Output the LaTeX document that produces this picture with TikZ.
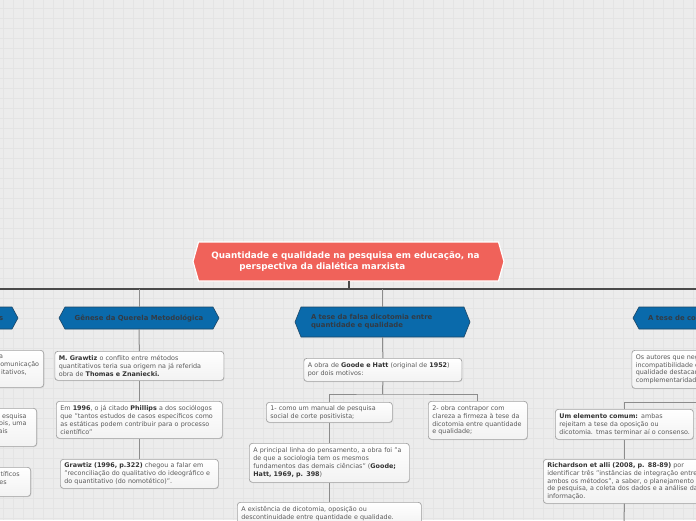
\documentclass[tikz,border=0pt]{standalone}
\usepackage{fontspec}
\setmainfont{DejaVu Sans}
\usetikzlibrary{shadows}
\definecolor{bgc}{HTML}{ECECEC}
\definecolor{gridc}{HTML}{E4E4E4}
\definecolor{titlec}{HTML}{F0625A}
\definecolor{bluec}{HTML}{0A6AAB}
\definecolor{blueedge}{HTML}{1C4666}
\definecolor{hextxt}{HTML}{333B44}
\definecolor{txtc}{HTML}{5A5A5A}
\definecolor{boldc}{HTML}{333333}
\definecolor{boxedge}{HTML}{A3A3A3}
\definecolor{connc}{HTML}{8C8C8C}
\definecolor{barc}{HTML}{4A4A4A}
\newcommand{\hb}[1]{\textbf{\color{boldc}#1}}
\newcommand{\lineb}[1]{\mbox{#1}}
\newcommand{\padr}[1]{\rule{#1}{0pt}}
\tikzset{
  mmbox/.style={draw=boxedge, line width=0.7pt, rounded corners=3pt,
    top color=white, bottom color=black!5,
    drop shadow={opacity=0.18, shadow xshift=0.6pt, shadow yshift=-0.8pt},
    inner xsep=4pt, inner ysep=2pt, align=left, text=txtc,
    font=\fontsize{6.4}{7.8}\selectfont, anchor=north west},
  hexshape/.style={fill=bluec, draw=blueedge, line width=0.6pt},
  hextext/.style={inner sep=0pt, text=hextxt, font=\bfseries\fontsize{6.9}{8}\selectfont},
  conn/.style={draw=connc, line width=1pt},
  barline/.style={draw=barc, line width=2pt}
}
\begin{document}
\begin{tikzpicture}[x=1pt,y=-1pt]
\useasboundingbox (0,0) rectangle (696,520);
\clip (0,0) rectangle (696,520);
\fill[bgc] (0,0) rectangle (696,520);
\foreach \gx in {3,13,...,693} \draw[gridc, line width=0.8pt] (\gx,0) -- (\gx,520);
\foreach \gy in {8,18,...,518} \draw[gridc, line width=0.8pt] (0,\gy) -- (696,\gy);

% main bar
\coordinate (barL) at (0,289);
\coordinate (barR) at (696,289);
\coordinate (barT) at (349,289);
\draw[barline] (barL) -- (barR);

% title
\path[fill=titlec, draw=white, line width=1.2pt] (193,261.5) -- (198.5,242) -- (498.5,242) -- (504,261.5) -- (498.5,281) -- (198.5,281) -- cycle;
\node[inner sep=0pt, minimum width=300pt, minimum height=39pt, align=left, text=white,
  font=\bfseries\fontsize{8.8}{11.5}\selectfont] (title) at (348.5,261.5)
  {Quantidade e qualidade na pesquisa em educação, na\padr{6pt}\\\padr{28pt}perspectiva da dialética marxista};
\draw[barline] (title.south -| barT) -- (barT);

% blue topic nodes
\path[hexshape] (-50,307) -- (12,307) -- (18,318) -- (12,329) -- (-50,329) -- cycle;
\node[hextext, anchor=base east] (lefthex) at (3.4,320.4) {s};

\path[hexshape] (59,318) -- (65,307) -- (213,307) -- (219,318) -- (213,329) -- (65,329) -- cycle;
\node[hextext, minimum width=148pt, minimum height=22pt] (gen) at (139,318) {Gênese da Querela Metodológica};
\draw[conn] (gen.north |- barL) -- (gen.north);

\path[hexshape] (295,322) -- (301,307) -- (464,307) -- (470,322) -- (464,337) -- (301,337) -- cycle;
\node[hextext, text width=143pt, align=left, minimum height=30pt] (fal) at (382.5,322) {A tese da falsa dicotomia entre\\quantidade e qualidade};
\draw[conn] (fal.north |- barL) -- (fal.north);

\path[hexshape] (633,318) -- (639,307) -- (720,307) -- (720,329) -- (639,329) -- cycle;
\node[hextext, anchor=west] (comp) at (648,318) {A tese de co};

% left column (cut off)
\node[mmbox, anchor=north east, text width=150pt, align=right, minimum height=37pt] (l1) at (44,350)
  {a\padr{36.5pt}\\omunicação\padr{0.5pt}\\itativos,\padr{13pt}\\\mbox{}};
\node[mmbox, anchor=north east, text width=150pt, align=right, minimum height=38pt] (l2) at (37,408)
  {esquisa\padr{6pt}\\ois, uma\padr{6pt}\\ais\padr{25pt}\\\mbox{}};
\node[mmbox, anchor=north east, text width=150pt, align=right, minimum height=29pt] (l3) at (31,467)
  {tíficos\padr{7pt}\\es\padr{20pt}\\\mbox{}};

% Genese column
\node[mmbox, text width=161pt, minimum height=29pt] (g1) at (54.5,351)
  {\lineb{\hb{M. Grawtiz} o conflito entre métodos}\\\lineb{quantitativos teria sua origem na já referida}\\\lineb{obra de \hb{Thomas e Znaniecki.}}};
\node[mmbox, text width=158pt, minimum height=37pt] (g2) at (56,401)
  {\lineb{Em \hb{1996}, o já citado \hb{Phillips} a dos sociólogos}\\\lineb{que "tantos estudos de casos específicos como}\\\lineb{as estáticas podem contribuir para o processo}\\\lineb{científico"}};
\node[mmbox, text width=150pt, minimum height=29pt] (g3) at (60,459)
  {\lineb{\hb{Grawtiz (1996, p.322)} chegou a falar em}\\\lineb{"reconciliação do qualitativo do ideográfico e}\\\lineb{do quantitativo (do nomotético)".}};
\draw[conn] (gen.south) -- (g1.north);
\draw[conn] (g1.south) -- (g2.north);
\draw[conn] (g2.south) -- (g3.north);

% centre column
\node[mmbox, text width=150pt, minimum height=23pt] (c1) at (303.5,358)
  {\lineb{A obra de \hb{Goode e Hatt} (original de \hb{1952})}\\\lineb{por dois motivos:}};
\node[mmbox, text width=118pt, minimum height=20pt] (c2) at (266,402)
  {\lineb{1- como um manual de pesquisa}\\\lineb{social de corte positivista;}};
\node[mmbox, text width=91pt, minimum height=38pt] (c3) at (428,401)
  {\lineb{2- obra contrapor com}\\\lineb{clareza a firmeza à tese da}\\\lineb{dicotomia entre quantidade}\\\lineb{e qualidade;}};
\node[mmbox, text width=152pt, minimum height=39pt] (c4) at (249,443)
  {\lineb{A principal linha do pensamento, a obra foi "a}\\\lineb{de que a sociologia tem os mesmos}\\\lineb{fundamentos das demais ciências" (\hb{Goode;}}\\\lineb{\hb{Hatt, 1969, p. 398})}};
\node[mmbox, text width=176pt, minimum height=23pt] (c5) at (237,502)
  {\lineb{A existência de dicotomia, oposição ou}\\\lineb{descontinuidade entre quantidade e qualidade.}};
\coordinate (cj) at (382.5,394);
\draw[conn] (fal.south) -- (c1.north);
\draw[conn] (c1.south) -- (cj);
\draw[conn] (c2.north) |- (cj) -| (c3.north);
\draw[conn] (c2.south) -- (c4.north);
\draw[conn] (c4.south) -- (c5.north);

% right column
\node[mmbox, text width=100pt, minimum height=38pt] (r1) at (631.5,350)
  {\lineb{Os autores que neg}\\\lineb{incompatibilidade e}\\\lineb{qualidade destacam}\\\lineb{complementaridade}};
\node[mmbox, text width=130pt, minimum height=30pt] (r2) at (555,409)
  {\lineb{\hb{Um elemento comum:} ambas}\\\lineb{rejeitam a tese da oposição ou}\\\lineb{dicotomia. tmas terminar aí o consenso.}};
\node[mmbox, text width=154pt, minimum height=44pt] (r3) at (543,459)
  {\lineb{\hb{Richardson et alli (2008, p. 88-89)} por}\\\lineb{identificar três "instâncias de integração entre}\\\lineb{ambos os métodos", a saber, o planejamento}\\\lineb{de pesquisa, a coleta dos dados e a análise da}\\\lineb{informação.}};
\coordinate (rj) at (700,402);
\coordinate (rb) at (624,530);
\draw[conn] (r2.north) |- (rj);
\draw[conn] (r2.south) -- (r3.north);
\draw[conn] (r3.south) -- (rb);
\end{tikzpicture}
\end{document}
